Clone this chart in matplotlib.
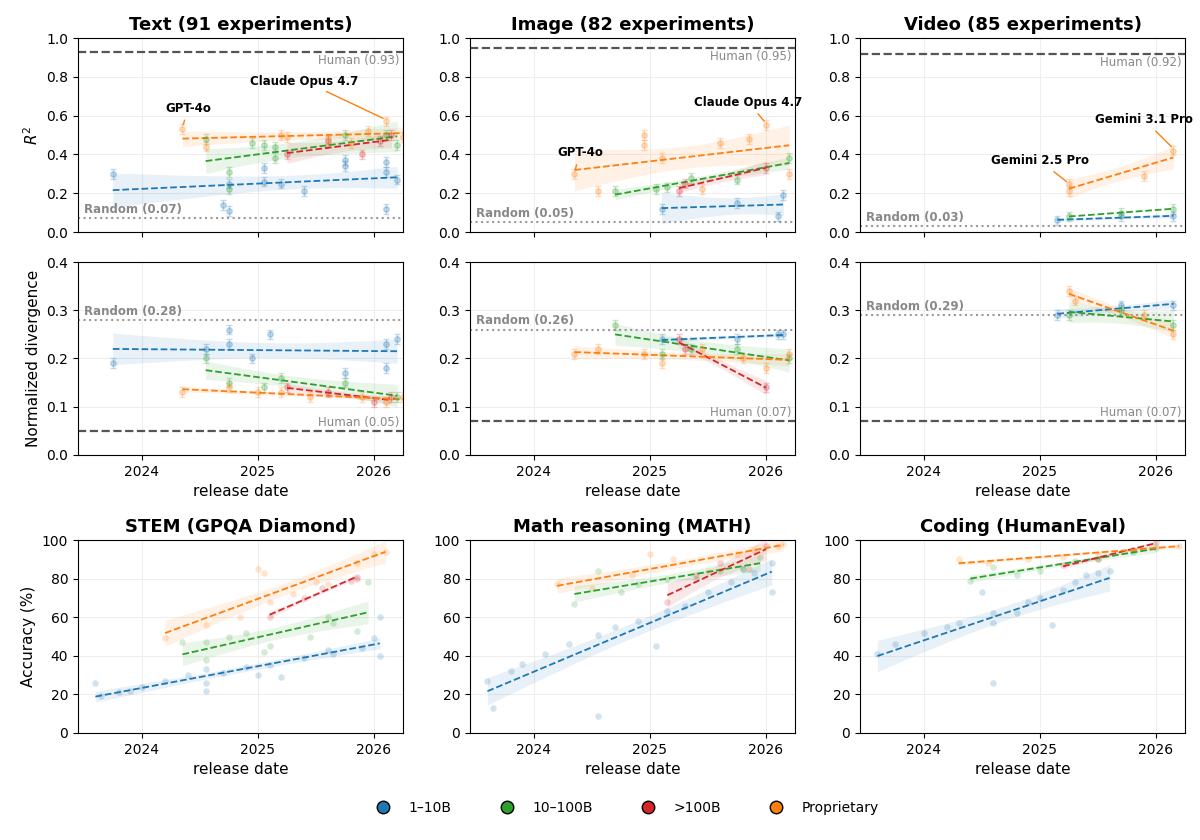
import numpy as np
import matplotlib.pyplot as plt
from matplotlib.lines import Line2D

groups = ["1–10B", "10–100B", ">100B", "Proprietary"]
colors = ["#1f77b4", "#2ca02c", "#d62728", "#ff7f0e"]

# (dates, values) per group, top rows: R^2 and divergence
text_r2 = {
    "1–10B": ([2023.75, 2024.7, 2024.75, 2024.75, 2025.05, 2025.05, 2025.2, 2025.4, 2025.75, 2025.75, 2026.1, 2026.1, 2026.1, 2026.2],
              [0.30, 0.14, 0.11, 0.25, 0.33, 0.26, 0.25, 0.21, 0.34, 0.37, 0.36, 0.31, 0.12, 0.27]),
    "10–100B": ([2024.55, 2024.75, 2024.75, 2024.95, 2025.05, 2025.15, 2025.15, 2025.75, 2026.1, 2026.2],
                [0.48, 0.31, 0.22, 0.46, 0.45, 0.38, 0.44, 0.50, 0.50, 0.45]),
    ">100B": ([2025.25, 2025.6, 2025.9, 2026.05, 2026.15], [0.40, 0.47, 0.40, 0.47, 0.50]),
    "Proprietary": ([2024.35, 2024.55, 2025.2, 2025.25, 2025.6, 2025.8, 2025.95, 2026.1, 2026.25],
                    [0.53, 0.44, 0.50, 0.49, 0.48, 0.46, 0.52, 0.57, 0.49]),
}
image_r2 = {
    "1–10B": ([2025.1, 2025.75, 2026.1, 2026.15], [0.12, 0.15, 0.08, 0.19]),
    "10–100B": ([2024.7, 2025.05, 2025.15, 2025.35, 2025.75, 2026.2], [0.21, 0.22, 0.23, 0.28, 0.27, 0.38]),
    ">100B": ([2025.25, 2025.3, 2026.0], [0.21, 0.25, 0.33]),
    "Proprietary": ([2024.35, 2024.55, 2024.95, 2024.95, 2025.1, 2025.45, 2025.6, 2025.85, 2026.0, 2026.2],
                    [0.30, 0.21, 0.50, 0.45, 0.38, 0.22, 0.46, 0.48, 0.55, 0.30]),
}
video_r2 = {
    "1–10B": ([2025.15, 2025.7, 2026.15], [0.06, 0.08, 0.08]),
    "10–100B": ([2025.25, 2025.7, 2026.15], [0.08, 0.10, 0.12]),
    "Proprietary": ([2025.25, 2025.25, 2025.9, 2026.15], [0.21, 0.25, 0.29, 0.42]),
}
text_div = {
    "1–10B": ([2023.75, 2024.55, 2024.75, 2024.75, 2024.95, 2025.1, 2025.75, 2026.1, 2026.1, 2026.2],
              [0.19, 0.22, 0.26, 0.23, 0.20, 0.25, 0.17, 0.23, 0.18, 0.24]),
    "10–100B": ([2024.55, 2024.75, 2025.05, 2025.2, 2025.75, 2026.2], [0.20, 0.15, 0.14, 0.16, 0.15, 0.12]),
    ">100B": ([2025.25, 2025.6, 2026.0, 2026.15], [0.14, 0.13, 0.11, 0.12]),
    "Proprietary": ([2024.35, 2024.75, 2025.0, 2025.2, 2025.45, 2025.9, 2026.1, 2026.25],
                    [0.13, 0.14, 0.13, 0.13, 0.12, 0.12, 0.11, 0.12]),
}
image_div = {
    "1–10B": ([2025.1, 2025.75, 2026.1, 2026.15], [0.24, 0.24, 0.25, 0.25]),
    "10–100B": ([2024.7, 2025.1, 2025.35, 2025.75, 2026.2], [0.27, 0.21, 0.22, 0.22, 0.20]),
    ">100B": ([2025.25, 2025.3, 2026.0], [0.24, 0.22, 0.14]),
    "Proprietary": ([2024.35, 2024.55, 2024.95, 2025.1, 2025.45, 2025.8, 2026.0, 2026.2],
                    [0.21, 0.22, 0.21, 0.19, 0.22, 0.20, 0.18, 0.21]),
}
video_div = {
    "1–10B": ([2025.15, 2025.7, 2026.15], [0.29, 0.31, 0.31]),
    "10–100B": ([2025.25, 2025.7, 2026.15], [0.29, 0.30, 0.27]),
    "Proprietary": ([2025.25, 2025.3, 2025.9, 2026.15], [0.34, 0.32, 0.29, 0.25]),
}

# bottom row benchmarks
stem = {
    "1–10B": ([2023.6, 2023.65, 2023.8, 2023.9, 2024.0, 2024.2, 2024.4, 2024.55, 2024.55, 2024.55, 2024.7, 2024.9, 2025.0, 2025.1, 2025.2, 2025.4, 2025.6, 2025.65, 2025.9, 2026.0, 2026.05, 2026.05],
              [26, 19, 21, 22, 24, 27, 30, 33, 26, 22, 31, 34, 30, 35, 29, 39, 43, 41, 44, 49, 40, 60]),
    "10–100B": ([2024.35, 2024.55, 2024.55, 2024.75, 2024.9, 2025.05, 2025.1, 2025.45, 2025.6, 2025.65, 2025.85, 2025.95],
                [47, 47, 38, 50, 52, 42, 45, 50, 60, 57, 53, 78]),
    ">100B": ([2025.1, 2025.4, 2025.55, 2025.8, 2025.85, 2025.85], [60, 70, 75, 79, 81, 80]),
    "Proprietary": ([2024.2, 2024.55, 2024.85, 2025.0, 2025.05, 2025.1, 2025.3, 2025.5, 2025.6, 2025.85, 2026.0, 2026.1],
                    [49, 56, 60, 85, 83, 68, 72, 78, 77, 88, 93, 94]),
}
math_ = {
    "1–10B": ([2023.6, 2023.65, 2023.8, 2023.9, 2024.1, 2024.3, 2024.55, 2024.55, 2024.7, 2024.9, 2025.05, 2025.15, 2025.3, 2025.5, 2025.7, 2025.8, 2025.9, 2026.05, 2026.05],
              [27, 13, 32, 36, 41, 46, 51, 9, 55, 58, 45, 63, 66, 73, 78, 85, 83, 88, 73]),
    "10–100B": ([2024.35, 2024.55, 2024.75, 2024.9, 2025.15, 2025.4, 2025.6, 2025.8, 2025.95],
                [67, 84, 73, 77, 80, 80, 84, 85, 91]),
    ">100B": ([2025.15, 2025.4, 2025.6, 2025.85, 2026.0], [68, 82, 88, 85, 97]),
    "Proprietary": ([2024.2, 2024.5, 2024.85, 2025.0, 2025.2, 2025.5, 2025.75, 2025.9, 2026.1, 2026.15],
                    [77, 75, 82, 93, 90, 84, 93, 95, 97, 98]),
}
coding = {
    "1–10B": ([2023.6, 2023.75, 2024.0, 2024.2, 2024.3, 2024.5, 2024.6, 2024.6, 2024.6, 2024.8, 2024.9, 2025.0, 2025.1, 2025.2, 2025.3, 2025.4, 2025.5, 2025.6],
              [41, 46, 52, 55, 57, 73, 62, 57, 26, 62, 68, 70, 56, 74, 78, 82, 83, 84]),
    "10–100B": ([2024.4, 2024.6, 2024.8, 2025.0, 2025.3, 2025.5, 2025.8, 2026.0],
                [79, 86, 82, 84, 89, 90, 94, 96]),
    ">100B": ([2025.2, 2025.5, 2025.8, 2026.0], [87, 90, 95, 99]),
    "Proprietary": ([2024.3, 2024.55, 2024.9, 2025.2, 2025.5, 2025.8, 2026.0, 2026.2],
                    [90, 88, 90, 91, 93, 95, 97, 97]),
}

top_panels = [
    ("Text (91 experiments)", text_r2, text_div, (0.93, 0.07), (0.05, 0.28)),
    ("Image (82 experiments)", image_r2, image_div, (0.95, 0.05), (0.07, 0.26)),
    ("Video (85 experiments)", video_r2, video_div, (0.92, 0.03), (0.07, 0.29)),
]
bottom_panels = [("STEM (GPQA Diamond)", stem), ("Math reasoning (MATH)", math_), ("Coding (HumanEval)", coding)]

W, H = 1200, 840
fig = plt.figure(figsize=(12, 8.4), dpi=100)
lefts = [78, 470, 860]
pw = 325


def ax_at(x, top, bottom):
    return fig.add_axes([x / W, 1 - bottom / H, pw / W, (bottom - top) / H])


def fit_line(ax, x, y, c):
    x = np.asarray(x, float)
    y = np.asarray(y, float)
    if len(x) < 2:
        return
    b, a = np.polyfit(x, y, 1)
    xs = np.linspace(x.min(), x.max(), 50)
    ys = a + b * xs
    res = y - (a + b * x)
    s = np.sqrt(np.sum(res ** 2) / max(len(x) - 2, 1))
    se = s * np.sqrt(1 / len(x) + (xs - x.mean()) ** 2 / max(np.sum((x - x.mean()) ** 2), 1e-6))
    ax.fill_between(xs, ys - 1.5 * se, ys + 1.5 * se, color=c, alpha=0.1, lw=0)
    ax.plot(xs, ys, "--", color=c, lw=1.3)


def style(ax):
    ax.set_xlim(2023.45, 2026.25)
    ax.set_xticks([2024, 2025, 2026])
    ax.grid(True, color="#eeeeee", lw=0.8)
    ax.set_axisbelow(True)


for j, (title, r2, div, (hr2, rr2), (hdv, rdv)) in enumerate(top_panels):
    for row, (data, ylim, human, rand) in enumerate([(r2, (0, 1), hr2, rr2), (div, (0, 0.4), hdv, rdv)]):
        ax = ax_at(lefts[j], [38, 262][row], [232, 455][row])
        style(ax)
        ax.set_ylim(*ylim)
        ax.axhline(human, color="#555555", ls="--", lw=1.6)
        ax.axhline(rand, color="#999999", ls=":", lw=1.5)
        span = ylim[1]
        ax.text(2026.22, human - 0.012 * span if row == 0 else human + 0.012 * span,
                f"Human ({human:.2f})", ha="right", va="top" if row == 0 else "bottom",
                color="#888888", fontsize=8.5)
        ax.text(2023.5, rand + 0.012 * span, f"Random ({rand:.2f})", ha="left", va="bottom",
                color="#888888", fontsize=8.5, fontweight="bold")
        for g, c in zip(groups, colors):
            if g not in data:
                continue
            x, y = data[g]
            ax.errorbar(x, y, yerr=0.025 * span, fmt="o", ms=4, color=c, alpha=0.25, capsize=2, lw=1)
            fit_line(ax, x, y, c)
        if row == 0:
            ax.set_title(title, fontsize=13, fontweight="bold")
            ax.set_yticks(np.arange(0, 1.01, 0.2))
            ax.tick_params(labelbottom=False)
            if j == 0:
                ax.set_ylabel("$R^2$", fontsize=11)
        else:
            ax.set_yticks(np.arange(0, 0.41, 0.1))
            ax.set_xlabel("release date", fontsize=11)
            if j == 0:
                ax.set_ylabel("Normalized divergence", fontsize=11)
        for lab in ax.get_xticklabels() + ax.get_yticklabels():
            lab.set_fontsize(10)

# annotations
axes = fig.axes
ann = dict(fontsize=8.5, fontweight="bold", arrowprops=dict(arrowstyle="-", color="#ff7f0e", lw=1))
axes[0].annotate("GPT-4o", xy=(2024.35, 0.54), xytext=(2024.4, 0.62), ha="center", **ann)
axes[0].annotate("Claude Opus 4.7", xy=(2026.1, 0.58), xytext=(2025.4, 0.76), ha="center", **ann)
axes[2].annotate("GPT-4o", xy=(2024.35, 0.31), xytext=(2024.4, 0.39), ha="center", **ann)
axes[2].annotate("Claude Opus 4.7", xy=(2026.0, 0.56), xytext=(2025.85, 0.65), ha="center", **ann)
axes[4].annotate("Gemini 2.5 Pro", xy=(2025.25, 0.25), xytext=(2025.0, 0.35), ha="center", **ann)
axes[4].annotate("Gemini 3.1 Pro", xy=(2026.15, 0.43), xytext=(2025.9, 0.56), ha="center", **ann)

for j, (title, data) in enumerate(bottom_panels):
    ax = ax_at(lefts[j], 540, 733)
    style(ax)
    ax.set_ylim(0, 100)
    ax.set_yticks(range(0, 101, 20))
    for g, c in zip(groups, colors):
        x, y = data[g]
        ax.scatter(x, y, s=22, color=c, alpha=0.2, lw=0)
        fit_line(ax, x, y, c)
    ax.set_title(title, fontsize=13, fontweight="bold")
    ax.set_xlabel("release date", fontsize=11)
    if j == 0:
        ax.set_ylabel("Accuracy (%)", fontsize=11)
    for lab in ax.get_xticklabels() + ax.get_yticklabels():
        lab.set_fontsize(10)

handles = [Line2D([], [], marker="o", ls="", ms=9, markerfacecolor=c, markeredgecolor="black", label=g)
           for g, c in zip(groups, colors)]
fig.legend(handles=handles, loc="center", bbox_to_anchor=(0.52, 1 - 808 / H), ncol=4, frameon=False,
           fontsize=10, columnspacing=3)

fig.savefig("out.png", dpi=100)
